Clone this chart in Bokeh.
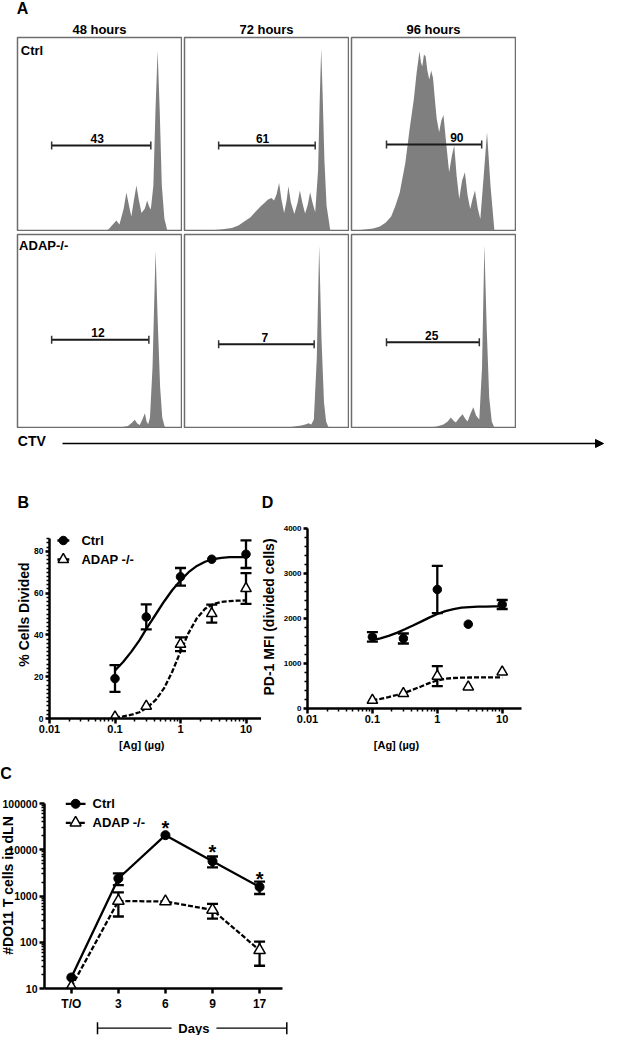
import math
from bokeh.plotting import figure
from bokeh.layouts import column, row
from bokeh.models import (Range1d, LinearScale, LogScale, Arrow, NormalHead, TeeHead, Whisker,
                          ColumnDataSource, FixedTicker, SingleIntervalTicker, Spacer,
                          BasicTickFormatter)
from bokeh.embed import file_html
from bokeh.resources import INLINE
from bokeh.core.properties import value

# ======================= DATA =======================
# Panel A : CTV dilution histograms (channel, events)
timepoints = ["48 hours", "72 hours", "96 hours"]
genotypes_a = ["Ctrl", "ADAP-/-"]

ctrl48_ch = [102.8, 107.3, 116.6, 120.3, 125.3, 128.5, 131.3, 134.3, 137.3, 140.3, 143.3, 146.3,
             150.3, 153.0, 155.3, 157.3, 160.3, 162.8, 165.3, 167.8, 170.3, 173.3, 176.7]
ctrl48_n = [0, 1, 10, 6, 22, 38, 26, 14, 30, 45, 30, 17.6, 22, 30, 24, 21, 45, 120, 180, 120, 45, 12, 0]

ctrl72_ch = [29.3, 42.6, 55.9, 63.6, 70.9, 77.6, 84.3, 89.6, 94.3, 98.6, 102.6, 105.6, 108.6, 111.6,
             114.6, 117.6, 120.5, 122.6, 125.5, 129.6, 133.5, 136.1, 139.0, 142.3, 145.5, 148.2,
             151.0, 154.2, 157.6, 159.5, 161.3, 163.2, 165.1, 167.6, 172.0]
ctrl72_n = [0, 1, 2.6, 5, 9.3, 13, 19.3, 24, 27.6, 31, 32.6, 30, 36, 47.6, 30, 17.6, 30, 44.3, 28,
            16.6, 28, 40, 28, 17, 26, 38.3, 28, 18.3, 60, 130, 182, 130, 70, 25, 0]

ctrl96_ch = [5.2, 15.5, 25.5, 33.5, 40.5, 46.8, 51.5, 56.8, 63.5, 68.5, 73.5, 76.8, 80.2, 82.0, 83.5,
             85.5, 87.5, 89.5, 91.8, 94.0, 96.2, 98.5, 100.5, 103.4, 106.0, 108.5, 112.0, 115.2,
             118.5, 121.2, 124.0, 127.1, 130.5, 133.8, 137.0, 140.1, 143.0, 145.7, 149.0, 152.0,
             156.0, 159.9, 164.0, 168.6]
ctrl96_n = [0, 1, 2, 4, 8, 14, 24, 37.6, 67.6, 101, 131, 157.6, 179.3, 168, 164, 176, 174, 160, 151,
            160, 152.6, 130, 112, 98.3, 110, 115.6, 85, 58.3, 75, 85, 55, 31.6, 50, 58.3, 35, 21.6,
            32, 40, 22, 11.6, 55, 98.3, 45, 0]

adap48_ch = [120.6, 130.3, 135.3, 138.3, 141.3, 144.3, 147.3, 150.3, 152.3, 154.2, 156.3, 159.3,
             162.9, 165.3, 168.3, 170.8, 173.9]
adap48_n = [0, 1.5, 5, 7.7, 4, 2.5, 8, 14.3, 6, 3.3, 10, 60, 176.7, 110, 40, 10, 0]

adap72_ch = [118.6, 127.6, 137.6, 142.6, 146.3, 149.6, 152.6, 156.1, 158.9, 161.6, 164.6, 167.1, 170.0]
adap72_n = [0, 0.8, 2, 3, 4.3, 3, 8, 70, 182, 90, 25, 6, 0]

adap96_ch = [91.5, 100.5, 108.5, 113.5, 117.2, 120.2, 123.1, 127.5, 131.1, 134.0, 137.0, 140.5,
             143.7, 147.0, 150.8, 154.0, 156.8, 159.5, 162.5, 165.5, 168.5]
adap96_n = [0, 1, 3, 6, 10, 7, 5, 10, 13.3, 9, 6, 14, 20.3, 12, 8, 60, 182.7, 100, 30, 6, 0]

# divided-cell gates (channel) and their percentages
gate_lo = [[40.3, 40.3, 41.3], [40.3, 40.3, 41.3]]
gate_hi = [[157.3, 154.2, 153.6], [155.0, 153.0, 150.8]]
gate_y = [[85.0, 85.0, 86.0], [87.7, 83.3, 85.3]]
gate_pct = [["43", "61", "90"], ["12", "7", "25"]]

# Panels B / D : dose response
dose_ticks = [0.01, 0.1, 1, 10]
dose_tick_labels = ["0.01", "0.1", "1", "10"]
ag_dose = [0.1, 0.3, 1, 3, 10]
b_ctrl_mean = [19.1, 48.6, 67.8, 76.2, 78.6]
b_ctrl_sem = [6.4, 6.0, 4.2, 0.0, 6.6]
b_adap_mean = [0.8, 5.9, 35.5, 50.2, 62.2]
b_adap_sem = [0.0, 0.0, 3.3, 4.3, 7.4]
curve_dose = [0.1, 0.133, 0.178, 0.237, 0.316, 0.422, 0.562, 0.75, 1.0, 1.33, 1.78, 2.37,
              3.16, 4.22, 5.62, 7.5, 10.0]
b_ctrl_fit = [23, 27, 32, 37.5, 44, 50, 56, 61.5, 66, 70, 73, 75, 76.3, 76.9, 77.2, 77.2, 77.2]
b_adap_fit = [0.5, 1, 1.8, 3, 5.5, 9, 14.5, 22.5, 32, 41, 48, 52.5, 54.8, 55.8, 56.2, 56.4, 56.5]

d_ctrl_mean = [1591, 1556, 2644, 1873, 2311]
d_ctrl_sem = [105, 111, 525, 0, 100]
d_adap_mean = [184, 333, 718, 481, 814]
d_adap_sem = [0, 0, 222, 0, 0]
d_ctrl_fit = [1520, 1560, 1615, 1680, 1760, 1845, 1930, 2020, 2100, 2165, 2210, 2240, 2255,
              2262, 2266, 2268, 2270]
d_adap_fit = [184, 215, 255, 300, 350, 420, 490, 565, 625, 660, 678, 686, 689, 690, 690, 690, 690]

# Panel C : DO11 T cells in dLN over time
day_labels = ["T/O", "3", "6", "9", "17"]
count_ticks = [10, 100, 1000, 10000, 100000]
count_tick_labels = ["10", "100", "1000", "10000", "100000"]
c_ctrl_mean = [17.3, 2390, 20650, 5650, 1574]
c_ctrl_sem = [0, 680, 0, 1500, 470]
c_adap_mean = [10.8, 780, 760, 500, 67]
c_adap_sem = [0, 420, 0, 175, 36]
c_star_day = [2, 3, 4]
c_star_y = [37000, 11500, 3060]

series_names = ["Ctrl", "ADAP -/-"]

# ======================= STYLE / LAYOUT =======================
FONT = "Liberation Sans"
INK = "black"
HIST_FILL = "#7f7f7f"
BOX_LINE = "#6d6d6d"
DASH = "5 2"
PAGE_W = 604


def fig(fw, fh, l=0, r=0, t=0, b=0, **kw):
    p = figure(frame_width=fw, frame_height=fh, min_border_left=l, min_border_right=r,
               min_border_top=t, min_border_bottom=b, toolbar_location=None,
               output_backend="svg", title=None, **kw)
    p.background_fill_color = "white"
    p.border_fill_color = "white"
    return p


def deco(w, h):
    p = fig(w, h, x_range=Range1d(0, w), y_range=Range1d(0, h), x_axis_type=None, y_axis_type=None)
    p.outline_line_color = None
    return p


def txt(p, x, y, s, size, align="center", angle=0.0, baseline="middle", **kw):
    p.text(x=[x], y=[y], text=[s], text_font=value(FONT), text_font_style="bold",
           text_font_size=f"{size}px", text_align=align, text_baseline=baseline, angle=angle,
           text_color=INK, **kw)


def add_px(p, fw, fh):
    p.extra_x_ranges = {"px": Range1d(0, fw)}
    p.extra_y_ranges = {"px": Range1d(0, fh)}
    p.extra_x_scales = {"px": LinearScale()}
    p.extra_y_scales = {"px": LinearScale()}


def style_axis(ax, fs, standoff, tick_out=5):
    ax.axis_line_width = 2.5
    ax.axis_line_color = INK
    ax.major_tick_line_width = 2.5
    ax.major_tick_line_color = INK
    ax.minor_tick_line_width = 1.5
    ax.minor_tick_line_color = INK
    ax.major_tick_out = tick_out
    ax.major_tick_in = 0
    ax.minor_tick_out = 3
    ax.minor_tick_in = 0
    ax.major_label_text_font = FONT
    ax.major_label_text_font_style = "bold"
    ax.major_label_text_font_size = fs
    ax.major_label_text_color = INK
    ax.major_label_standoff = int(standoff)


def add_err(p, xs, means, sems, head=11):
    keep = [i for i, s in enumerate(sems) if s > 0]
    src = ColumnDataSource(dict(base=[xs[i] for i in keep],
                                lower=[means[i] - sems[i] for i in keep],
                                upper=[means[i] + sems[i] for i in keep]))
    p.add_layout(Whisker(source=src, base="base", lower="lower", upper="upper", dimension="height",
                         line_color=INK, line_width=2.3,
                         upper_head=TeeHead(size=head, line_color=INK, line_width=2.3),
                         lower_head=TeeHead(size=head, line_color=INK, line_width=2.3)))


def markers(p, xs, ys, kind, size, **kw):
    if kind == "circle":
        p.scatter(xs, ys, marker="circle", size=size, color=INK, **kw)
    else:
        p.scatter(xs, ys, marker="triangle", size=size, fill_color="white", line_color=INK,
                  line_width=1.5, **kw)


def legend_rows(p, L, B, rows, msize):
    for (y, x0, x1, xm, xt, dash, kind, text) in rows:
        p.line([x0 - L, x1 - L], [B - y, B - y], x_range_name="px", y_range_name="px",
               line_width=2.3, color=INK, line_dash=dash)
        markers(p, [xm - L], [B - y], kind, msize if kind == "circle" else msize + 2,
                x_range_name="px", y_range_name="px")
        txt(p, xt - L, B - y, text, 13, align="left", x_range_name="px", y_range_name="px")


# ---------- Panel A ----------
hdr = deco(PAGE_W, 36)
txt(hdr, 30 - 8, 44 - 15.5, "A", 16)
BOX_FRAME_LEFT = [25, 192, 359]
for i, t in enumerate(timepoints):
    txt(hdr, BOX_FRAME_LEFT[i] + 82 - 8, 44 - 37, t, 13)

hist_ch = [[ctrl48_ch, ctrl72_ch, ctrl96_ch], [adap48_ch, adap72_ch, adap96_ch]]
hist_n = [[ctrl48_n, ctrl72_n, ctrl96_n], [adap48_n, adap72_n, adap96_n]]
gate_label_x = [[94.1, 92.1, 124.3], [94.9, 94.9, 94.7]]
name_pos = [(3.9, 180.5), (1.9, 182.0)]

hist_rows = []
for r in range(2):
    figs = []
    for c in range(3):
        p = fig(164, 193, 1, 1, 1, 1, x_range=Range1d(0, 193.5), y_range=Range1d(0, 193),
                x_axis_type=None, y_axis_type=None)
        p.outline_line_color = BOX_LINE
        p.outline_line_width = 1.5
        p.varea(x=hist_ch[r][c], y1=0, y2=hist_n[r][c], fill_color=HIST_FILL)
        lo, hi, gy = gate_lo[r][c], gate_hi[r][c], gate_y[r][c]
        p.segment(x0=[lo], y0=[gy], x1=[hi], y1=[gy], line_color="#1a1a1a", line_width=2)
        p.segment(x0=[lo, hi], y0=[gy - 4, gy - 4], x1=[lo, hi], y1=[gy + 4, gy + 4],
                  line_color="#333333", line_width=1.5)
        txt(p, gate_label_x[r][c], gy, gate_pct[r][c], 12, y_offset=-7)
        if c == 0:
            txt(p, name_pos[r][0], name_pos[r][1], genotypes_a[r], 13, align="left")
        figs.append(p)
    hist_rows.append(row(Spacer(width=16, height=195), figs[0], Spacer(width=1, height=195),
                         figs[1], Spacer(width=1, height=195), figs[2]))

ctv = deco(PAGE_W, 30)
txt(ctv, 39.3 - 8, 466 - 448, "CTV", 14)
ctv.add_layout(Arrow(x_start=70 - 8, y_start=15, x_end=611 - 8, y_end=15, line_width=1.5,
                     line_color=INK, start=None,
                     end=NormalHead(size=8, fill_color=INK, line_color=INK)))

dose_minor = [m * 10 ** e for e in (-2, -1, 0, 1) for m in range(2, 10)]

# ---------- strip with panel letters B / D (page y 466-526) ----------
strip_bd = deco(PAGE_W, 60)
txt(strip_bd, 30.9 - 8, 526 - 509.5, "B", 16)
txt(strip_bd, 275 - 8, 526 - 509.5, "D", 16)

BD_BOTTOM = 28
ROW_BD_H = 190 + BD_BOTTOM
AG_STRIP_H = 760 - (716 + BD_BOTTOM)

# ---------- Panel B ----------
B_L, B_R, B_T, B_B = 54, 266, 526, 716
B_DEC = 65.5
pB = fig(B_R - B_L, B_B - B_T, l=15, r=0, t=0, b=BD_BOTTOM, x_axis_type="log",
         x_range=Range1d(0.01, 10 ** (-2 + (B_R - B_L) / B_DEC)),
         y_range=Range1d(0, (B_B - B_T) / 2.09))
pB.outline_line_color = None
pB.grid.visible = False
add_px(pB, B_R - B_L, B_B - B_T)
style_axis(pB.xaxis[0], "11px", 1)
style_axis(pB.yaxis[0], "8.5px", 2, tick_out=4)
pB.xaxis.ticker = FixedTicker(ticks=dose_ticks, minor_ticks=[m for m in dose_minor if m <= 17])
pB.xaxis.formatter = BasicTickFormatter()
pB.xaxis.major_label_overrides = {t: s for t, s in zip(dose_ticks, dose_tick_labels)}
pB.yaxis.ticker = SingleIntervalTicker(interval=20, num_minor_ticks=10)
pB.yaxis.bounds = (0, 86.1)
add_err(pB, ag_dose, b_ctrl_mean, b_ctrl_sem)
add_err(pB, ag_dose, b_adap_mean, b_adap_sem)
pB.line(curve_dose, b_ctrl_fit, line_width=2.3, color=INK)
pB.line(curve_dose, b_adap_fit, line_width=2.3, color=INK, line_dash=DASH)
markers(pB, ag_dose, b_ctrl_mean, "circle", 8.5)
markers(pB, ag_dose, b_adap_mean, "triangle", 10.5)
legend_rows(pB, B_L, B_B, [(538, 61.9, 73.8, 67.8, 85.9, "solid", "circle", series_names[0]),
                           (557, 61.9, 73.8, 67.8, 85.9, DASH, "triangle", series_names[1])], 8.5)

decoB = deco(31, ROW_BD_H)
txt(decoB, 31.7 - 8, 716 + BD_BOTTOM - 612, "% Cells Divided", 14, angle=math.pi / 2)

# ---------- Panel D ----------
D_L, D_R, D_T, D_B = 309, 523, 536, 716
D_DEC = 64.9
pD = fig(D_R - D_L, D_B - D_T, l=24, r=1, t=10, b=BD_BOTTOM, x_axis_type="log",
         x_range=Range1d(0.01, 10 ** (-2 + (D_R - D_L) / D_DEC)), y_range=Range1d(0, 4000))
pD.outline_line_color = None
pD.grid.visible = False
style_axis(pD.xaxis[0], "11px", 1)
style_axis(pD.yaxis[0], "8px", 2, tick_out=4)
pD.xaxis.ticker = FixedTicker(ticks=dose_ticks, minor_ticks=dose_minor)
pD.xaxis.formatter = BasicTickFormatter()
pD.xaxis.major_label_overrides = {t: s for t, s in zip(dose_ticks, dose_tick_labels)}
pD.yaxis.ticker = SingleIntervalTicker(interval=1000, num_minor_ticks=5)
add_err(pD, ag_dose, d_ctrl_mean, d_ctrl_sem)
add_err(pD, ag_dose, d_adap_mean, d_adap_sem)
pD.line(curve_dose, d_ctrl_fit, line_width=2.3, color=INK)
pD.line(curve_dose, d_adap_fit, line_width=2.3, color=INK, line_dash=DASH)
markers(pD, ag_dose, d_ctrl_mean, "circle", 8.5)
markers(pD, ag_dose, d_adap_mean, "triangle", 10.5)

decoD = deco(19, ROW_BD_H)
txt(decoD, 273.8 - 266, 716 + BD_BOTTOM - 614.5, "PD-1 MFI (divided cells)", 14, angle=math.pi / 2)

strip_ag = deco(PAGE_W, AG_STRIP_H)
txt(strip_ag, 149.3 - 8, AG_STRIP_H / 2, "[Ag] (µg)", 11)
txt(strip_ag, 404 - 8, AG_STRIP_H / 2, "[Ag] (µg)", 11)

# ---------- Panel C ----------
strip_c = deco(PAGE_W, 41)
txt(strip_c, 13.5 - 8, 801 - 781, "C", 16)

C_L, C_R, C_T, C_B = 52, 290, 801, 996
C_STEP = 47.07
C_DEC = 46.25
c_x0 = -(78.8 - C_L) / C_STEP
c_ytop = 10 ** (5 + 10 / C_DEC)
pC = fig(C_R - C_L, C_B - C_T, l=6, r=2, t=0, b=24, y_axis_type="log",
         x_range=Range1d(c_x0, c_x0 + (C_R - C_L) / C_STEP), y_range=Range1d(10, c_ytop))
pC.outline_line_color = None
pC.grid.visible = False
add_px(pC, C_R - C_L, C_B - C_T)
style_axis(pC.xaxis[0], "12px", 3)
style_axis(pC.yaxis[0], "1px", 0)
day_x = list(range(len(day_labels)))
pC.xaxis.ticker = FixedTicker(ticks=day_x, minor_ticks=[])
pC.xaxis.major_label_overrides = {i: s for i, s in zip(day_x, day_labels)}
count_minor = [m * 10 ** e for e in (1, 2, 3, 4) for m in range(2, 10)]
pC.yaxis.ticker = FixedTicker(ticks=count_ticks, minor_ticks=count_minor)
pC.yaxis.major_label_overrides = {t: "" for t in count_ticks}
pC.yaxis.bounds = (10, 100000)
add_err(pC, day_x, c_ctrl_mean, c_ctrl_sem, head=11)
add_err(pC, day_x, c_adap_mean, c_adap_sem, head=11)
pC.line(day_x, c_ctrl_mean, line_width=2.3, color=INK)
pC.line(day_x, c_adap_mean, line_width=2.3, color=INK, line_dash=DASH)
markers(pC, day_x, c_ctrl_mean, "circle", 9)
markers(pC, day_x, c_adap_mean, "triangle", 11.5)
pC.text(x=c_star_day, y=c_star_y, text=["*"] * len(c_star_day), text_font=value(FONT),
        text_font_style="bold", text_font_size="20px", text_align="center",
        text_baseline="middle", y_offset=5, text_color=INK)
legend_rows(pC, C_L, C_B, [(811.3, 73.3, 93.0, 83.1, 100.0, "solid", "circle", series_names[0]),
                           (830.3, 73.3, 93.0, 83.1, 100.0, DASH, "triangle", series_names[1])], 9)

# y tick labels and title of C, drawn on the same log scale beside the axis
decoC = fig(38, 219, x_range=Range1d(0, 38),
            y_range=Range1d(10 ** (1 - 24 / C_DEC), c_ytop), x_axis_type=None, y_axis_type=None)
decoC.y_scale = LogScale()
decoC.outline_line_color = None
add_px(decoC, 38, 219)
decoC.text(x=[37] * len(count_ticks), y=count_ticks, text=count_tick_labels, text_font=value(FONT),
           text_font_style="bold", text_font_size="10.5px", text_align="right",
           text_baseline="middle", text_color=INK)
txt(decoC, 15.5 - 8, 1020 - 893, "#DO11 T cells in dLN", 14, angle=math.pi / 2,
    x_range_name="px", y_range_name="px")

strip_days = deco(PAGE_W, 22)
DY = 1042 - 1034.7
strip_days.segment(x0=[105 - 8, 223.9 - 8], y0=[DY, DY], x1=[179.1 - 8, 294.3 - 8], y1=[DY, DY],
                   line_color=INK, line_width=1.2)
strip_days.segment(x0=[105 - 8, 294.3 - 8], y0=[DY - 6, DY - 6], x1=[105 - 8, 294.3 - 8],
                   y1=[DY + 6, DY + 6], line_color=INK, line_width=1.5)
txt(strip_days, 201.4 - 8, DY, "Days", 13)

layout = column(hdr, hist_rows[0], Spacer(width=PAGE_W, height=2), hist_rows[1], ctv,
                strip_bd, row(decoB, pB, decoD, pD), strip_ag,
                strip_c, row(decoC, pC), strip_days)

open("out.html", "w").write(file_html(layout, INLINE, title="CTV proliferation"))
